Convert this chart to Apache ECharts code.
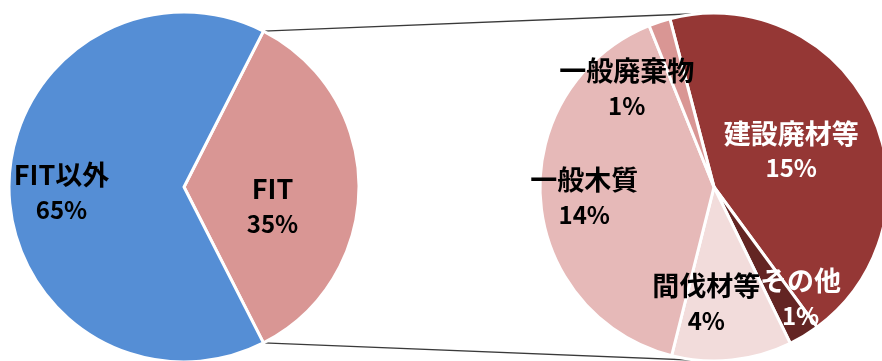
<!DOCTYPE html>
<html><head><meta charset="utf-8">
<script src="https://cdn.jsdelivr.net/npm/echarts@6/dist/echarts.min.js"></script>
<style>html,body{margin:0;padding:0;background:#fff}#c{width:882px;height:361px}</style>
</head><body><div id="c"></div>
<script>
// ---- data (percent of total; labels show rounded values) ----
const mainNames = ['FIT', 'FIT以外'];
const mainValues = [35, 65];
const subNames = ['建設廃材等', 'その他', '間伐材等', '一般木質', '一般廃棄物'];
const subValues = [15.4, 1.0, 3.9, 14.0, 0.7];

// ---- styles / layout ----
const mainColors = ['#D99694', '#558ED5'];
const subColors = ['#953735', '#632523', '#F2DCDB', '#E6B9B8', '#D99694'];
const mainLabelColors = ['#000', '#000'];
const subLabelColors = ['#fff', '#fff', '#000', '#000', '#000'];
const mainOffsets = [[-2, 19], [-32, 5]];
const subOffsets = [[-4, 2], [40, 34], [-17, 26], [-40, 4], [-59, -14]];
const C1 = [184, 187], C2 = [714, 187], R1 = 175, R2 = 174;
const A1 = 63, A2 = 104.7;
const FONT = '"Noto Sans CJK JP", "Noto Sans", sans-serif';

const chart = echarts.init(document.getElementById('c'), null, {renderer: 'canvas'});

function rich(color) {
  return {
    n: {fontSize: 27, fontWeight: 'bold', color: color, fontFamily: FONT, lineHeight: 36},
    v: {fontSize: 24, fontWeight: 'bold', color: color, fontFamily: FONT, lineHeight: 34}
  };
}
function mk(names, values, colors, lcolors) {
  return names.map((n, i) => ({
    name: n, value: values[i],
    itemStyle: {color: colors[i]},
    label: {color: lcolors[i], rich: rich(lcolors[i])}
  }));
}
const fmt = p => '{n|' + p.name + '}\n{v|' + Math.round(p.value) + '%}';

// connector lines computed from pie geometry
const mainTotal = mainValues.reduce((a, b) => a + b, 0);
const endA = A1 - 360 * mainValues[0] / mainTotal;
const rad = d => d * Math.PI / 180;
const p1 = [C1[0] + R1 * Math.cos(rad(A1)), C1[1] - R1 * Math.sin(rad(A1))];
const p2 = [C1[0] + R1 * Math.cos(rad(endA)), C1[1] - R1 * Math.sin(rad(endA))];
const q1 = [C2[0], C2[1] - R2];
const q2 = [C2[0], C2[1] + R2];

chart.setOption({
  animation: false,
  backgroundColor: '#fff',
  graphic: [
    {type: 'line', z: 0, shape: {x1: p1[0], y1: p1[1], x2: q1[0], y2: q1[1]}, style: {stroke: '#3a3a3a', lineWidth: 1.3}},
    {type: 'line', z: 0, shape: {x1: p2[0], y1: p2[1], x2: q2[0], y2: q2[1]}, style: {stroke: '#3a3a3a', lineWidth: 1.3}}
  ],
  series: [
    {
      type: 'pie', center: C1, radius: [0, R1], startAngle: A1, clockwise: true,
      silent: true, avoidLabelOverlap: false,
      itemStyle: {borderColor: '#fff', borderWidth: 3},
      label: {show: true, position: 'inside', formatter: fmt},
      labelLine: {show: false},
      labelLayout: p => ({dx: mainOffsets[p.dataIndex][0], dy: mainOffsets[p.dataIndex][1]}),
      data: mk(mainNames, mainValues, mainColors, mainLabelColors)
    },
    {
      type: 'pie', center: C2, radius: [0, R2], startAngle: A2, clockwise: true,
      silent: true, avoidLabelOverlap: false,
      itemStyle: {borderColor: '#fff', borderWidth: 3},
      label: {show: true, position: 'inside', formatter: fmt},
      labelLine: {show: false},
      labelLayout: p => ({dx: subOffsets[p.dataIndex][0], dy: subOffsets[p.dataIndex][1]}),
      data: mk(subNames, subValues, subColors, subLabelColors)
    }
  ]
});
</script>
</body></html>
